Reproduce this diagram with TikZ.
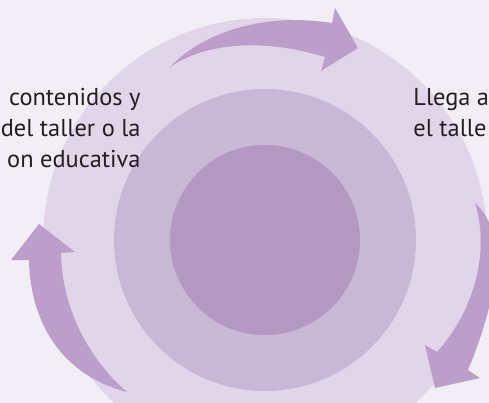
\documentclass[tikz,border=0pt]{standalone}
\usepackage{fontspec}
\setmainfont{PT Sans}
\usepackage{tikz}
\definecolor{bgpale}{HTML}{F2EEF5}
\definecolor{ringa}{HTML}{E1D6E9}
\definecolor{ringb}{HTML}{C9B7D6}
\definecolor{ringc}{HTML}{B398C2}
\definecolor{arrowc}{HTML}{BC9ECB}
\definecolor{txtc}{HTML}{231F20}
\tikzset{
  ring_out/.style = {fill=ringa},
  ring_mid/.style = {fill=ringb},
  ring_in/.style = {fill=ringc},
  cyc_arrow/.style = {fill=arrowc},
  lbl/.style = {inner sep=0pt, text=txtc, font=\fontsize{12.2}{15.5}\selectfont}
}
\begin{document}
\begin{tikzpicture}[x=0.5pt, y=-0.5pt]
    \useasboundingbox (0,0) rectangle (489,403);
    \fill[bgpale] (0,0) rectangle (489,403);
    \coordinate (c) at (265,240);
    % rings
    \fill[ring_out] (c) circle (222);
    \fill[ring_mid] (c) circle (151);
    \fill[ring_in] (c) circle (95);
    % arrows
    \fill[cyc_arrow] (170,67) .. controls (197,38) and (255,11) .. (332,23)
        -- (335,8) -- (358,48) -- (321,71) -- (325,57)
        .. controls (270,40) and (210,40) .. (170,67) -- cycle;
    \fill[cyc_arrow] (475,203) .. controls (490,250) and (475,310) .. (437,352)
        -- (425,345) -- (435,388) -- (480,378) -- (468,370)
        .. controls (493,310) and (512,235) .. (475,203) -- cycle;
    \fill[cyc_arrow] (127,392) .. controls (60,375) and (30,320) .. (29,260)
        -- (11,260) -- (39,224) -- (75,252) -- (61,253)
        .. controls (62,310) and (90,360) .. (127,392) -- cycle;
    % labels
    \node[lbl, align=right, anchor=north east] (txt_left) at (141,88)
        {contenidos y\\del taller o la\\on educativa};
    \node[lbl, align=left, anchor=north west] (txt_right) at (413,88)
        {Llega a\\el talle};
\end{tikzpicture}
\end{document}
